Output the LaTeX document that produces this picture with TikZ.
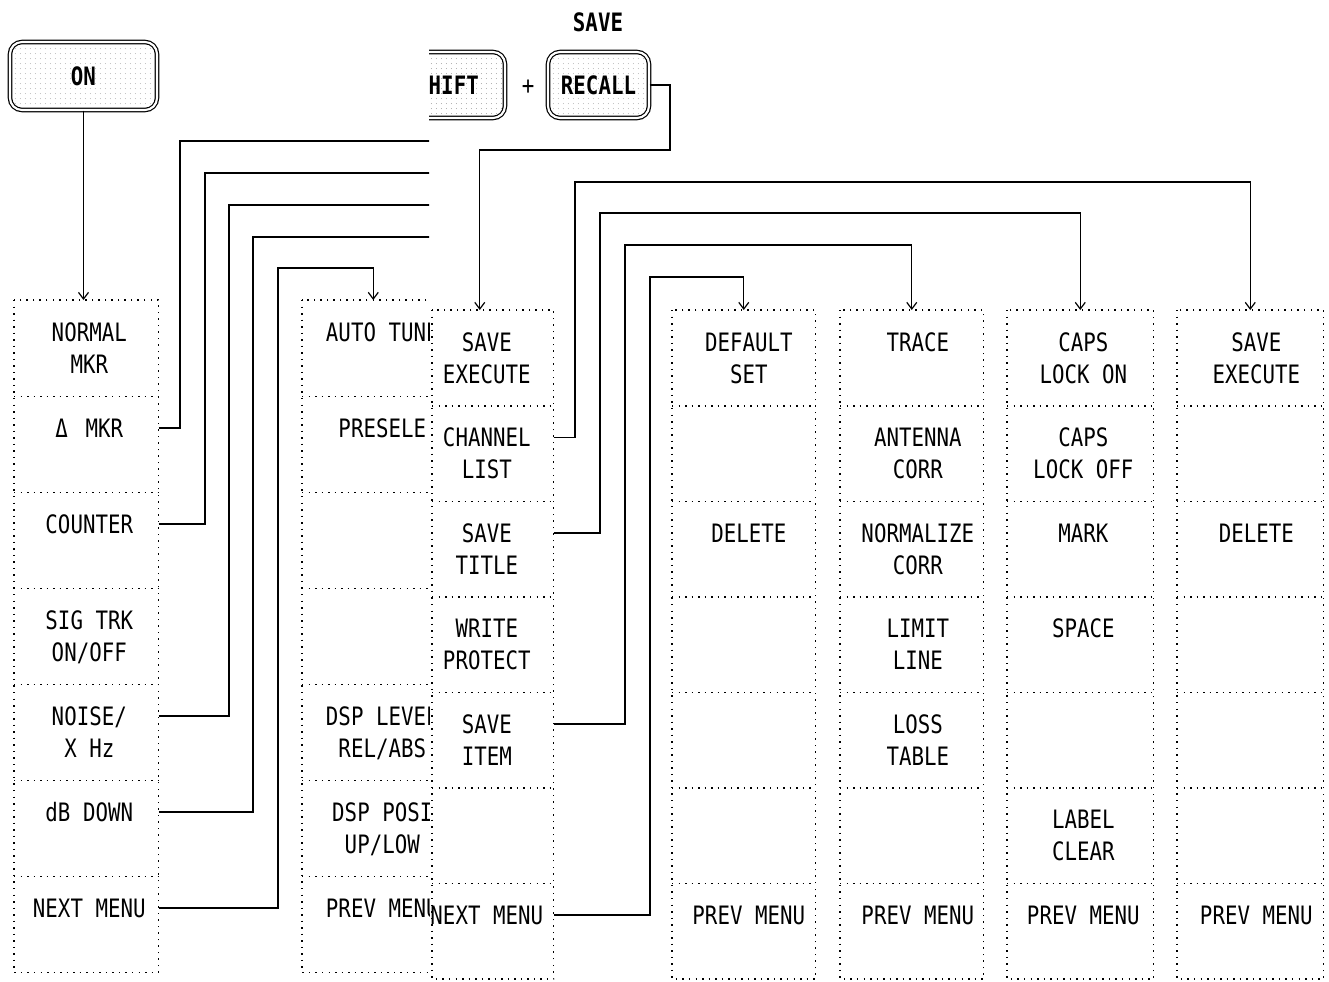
\documentclass[tikz,border=0pt]{standalone}
\usepackage{fontspec}
\newfontfamily\plotfont[FakeStretch=0.82]{DejaVu Sans Mono}
\usetikzlibrary{patterns.meta,calc,arrows.meta}
\newcommand\sr{\rule[-4pt]{0pt}{22pt}}
\newcommand\two[2]{\sr#1\\\sr#2}
% #1 name, #2 x, #3 y, #4 width px, #5 row px, #6 text x-offset px, #7 list
\newcommand\menucol[7]{%
  \foreach \t [count=\k] in {#7} {%
    \node[cell, minimum width={#4*0.75pt}, minimum height={#5*0.75pt}] (#1-\k) at (#2,{#3+(\k-1)*#5}) {};
    \node[txt] (#1-\k-t) at ([xshift={#6*0.75pt}]#1-\k.center) {\t};}
  \draw[gridline] (#1-1.north west) rectangle (#1-7.south east);
  \foreach \k in {1,...,6} {\draw[gridline] (#1-\k.south west) -- (#1-\k.south east);}
}
\begin{document}
\begin{tikzpicture}[x=0.75pt,y=-0.75pt,
  txt/.style={font={\plotfont\fontsize{19pt}{24pt}\selectfont}, align=center, inner sep=0pt},
  btxt/.style={font={\plotfont\bfseries\fontsize{19pt}{24pt}\selectfont}, inner sep=0pt},
  cell/.style={inner sep=0pt, anchor=north west},
  gridline/.style={line width=1.1pt, dash pattern=on 1.1pt off 3.8pt},
  conn/.style={line width=0.9pt},
  arr/.style={conn, -{Straight Barb[length=5pt,width=7.5pt]}},
  btn/.style={btxt, draw, line width=0.9pt, double=white, double distance=1.6pt,
    rounded corners=9pt, pattern={Dots[distance=4pt,radius=0.4pt]}, pattern color=gray!80}]
\fill[white] (0,0) rectangle (1329,982);
\useasboundingbox (0,0) rectangle (1329,982);
% ---------------- left layer ----------------
\begin{scope}
\clip (0,0) rectangle (429,982);
\node[btn, minimum width={147*0.75pt}, minimum height={68*0.75pt}] (on) at (83.5,76) {ON};
\menucol{ca}{14}{300}{144}{96}{3}{{\two{NORMAL}{MKR}},{\two{Δ\hspace{4pt} MKR}{}},{\two{COUNTER}{}},{\two{SIG TRK}{ON/OFF}},{\two{NOISE/}{X Hz}},{\two{dB DOWN}{}},{\two{NEXT MENU}{}}}
\menucol{cb}{302}{300}{160}{96}{0}{{\two{AUTO TUNE}{}},{\two{PRESELE}{}},{\two{}{}},{\two{}{}},{\two{DSP LEVEL}{REL/ABS}},{\two{DSP POSI}{UP/LOW}},{\two{PREV MENU}{}}}
\draw[arr] (on.south) -- (on.south |- ca-1.north);
\foreach \k in {2,3,5,6,7} {\coordinate (oa\k) at ($(ca-\k.north east)+(0,32)$);}
\coordinate (e1) at (432,141);
\coordinate (e2) at (432,173);
\coordinate (e3) at (432,205);
\coordinate (e4) at (432,237);
\draw[conn] (oa2) -| (180,141) -- (e1);
\draw[conn] (oa3) -| (205,173) -- (e2);
\draw[conn] (oa5) -| (229,205) -- (e3);
\draw[conn] (oa6) -| (253,237) -- (e4);
\draw[arr] (oa7) -| (278,268) -| ([xshift=-6.75pt]cb-1.north);
\end{scope}
% ---------------- right layer ----------------
\begin{scope}
\clip (429,0) rectangle (1329,982);
\node[btn, minimum width={115*0.75pt}, minimum height={66*0.75pt}] (shift) at (447.5,85) {SHIFT};
\node[btn, minimum width={101*0.75pt}, minimum height={66*0.75pt}] (recall) at (598.5,85) {RECALL};
\node[txt] (plus) at (528,87) {+};
\node[btxt] (save) at (598,22) {SAVE};
\menucol{cc}{432}{310}{121}{95.5}{-6}{{\two{SAVE}{EXECUTE}},{\two{CHANNEL}{LIST}},{\two{SAVE}{TITLE}},{\two{WRITE}{PROTECT}},{\two{SAVE}{ITEM}},{\two{}{}},{\two{NEXT MENU}{}}}
\menucol{cd}{672}{310}{143}{95.5}{5}{{\two{DEFAULT}{SET}},{\two{}{}},{\two{DELETE}{}},{\two{}{}},{\two{}{}},{\two{}{}},{\two{PREV MENU}{}}}
\menucol{ce}{840}{310}{143}{95.5}{6}{{\two{TRACE}{}},{\two{ANTENNA}{CORR}},{\two{NORMALIZE}{CORR}},{\two{LIMIT}{LINE}},{\two{LOSS}{TABLE}},{\two{}{}},{\two{PREV MENU}{}}}
\menucol{cf}{1007}{310}{146}{95.5}{3}{{\two{CAPS}{LOCK ON}},{\two{CAPS}{LOCK OFF}},{\two{MARK}{}},{\two{SPACE}{}},{\two{}{}},{\two{LABEL}{CLEAR}},{\two{PREV MENU}{}}}
\menucol{cg}{1177}{310}{146}{95.5}{6}{{\two{SAVE}{EXECUTE}},{\two{}{}},{\two{DELETE}{}},{\two{}{}},{\two{}{}},{\two{}{}},{\two{PREV MENU}{}}}
\foreach \k in {2,3,5,7} {\coordinate (oc\k) at ($(cc-\k.north east)+(0,32)$);}
\draw[arr] (recall.east) -| (670,150) -| ([xshift=-9.75pt]cc-1.north);
\draw[arr] (oc2) -| (575,182) -| (cg-1.north);
\draw[arr] (oc3) -| (600,213) -| (cf-1.north);
\draw[arr] (oc5) -| (625,245) -| (ce-1.north);
\draw[arr] (oc7) -| (650,277) -| (cd-1.north);
\end{scope}
\end{tikzpicture}
\end{document}
